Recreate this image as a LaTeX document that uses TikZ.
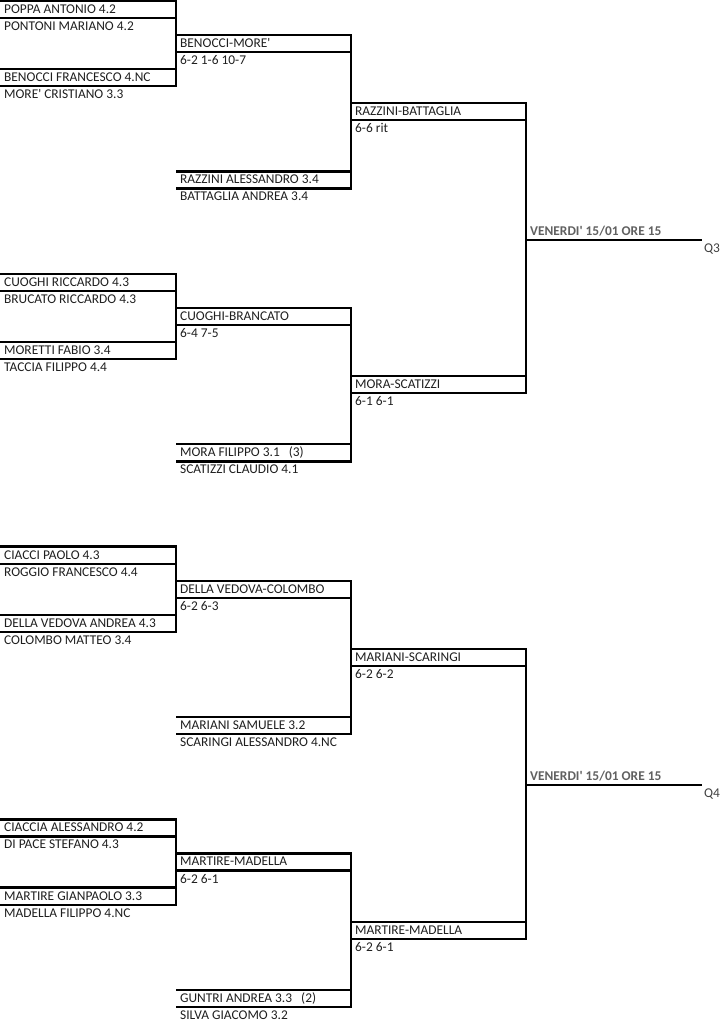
\documentclass[tikz,border=0pt]{standalone}
\usepackage{fontspec}
\setmainfont{Carlito}
\usepackage{xcolor}
\usepackage{tikz}

\begin{document}
\begin{tikzpicture}[x=1pt, y=-17.05pt, line width=2.3pt,
  cell/.style={anchor=base west, inner sep=0pt, text=black!88, font=\fontsize{13.4}{16}\selectfont},
  date/.style={cell, text=black!62, font=\fontsize{13.4}{16}\selectfont\bfseries},
  tag/.style={cell, text=black!75}]
\useasboundingbox (0pt,1pt) rectangle (721pt,-1023pt);
% upper half
\draw (0,0) -| (176,5) -- (0,5) (0,1) -- (176,1) (0,4) -- (176,4);
\node[cell] (poppa) at (3,0.73) {POPPA ANTONIO 4.2};
\node[cell] (pontoni) at (3,1.73) {PONTONI MARIANO 4.2};
\node[cell] (benocci) at (3,4.73) {BENOCCI FRANCESCO 4.NC};
\node[cell] (more) at (3,5.73) {MORE\textquotesingle{} CRISTIANO 3.3};
\draw (176,2) -| (351,11) -- (176,11) (176,3) -- (351,3) (176,10) -- (351,10);
\node[cell] (w1) at (179,2.73) {BENOCCI-MORE\textquotesingle};
\node[cell] (s1) at (179,3.73) {6-2 1-6 10-7};
\node[cell] (razzini) at (179,10.73) {RAZZINI ALESSANDRO 3.4};
\node[cell] (battaglia) at (179,11.73) {BATTAGLIA ANDREA 3.4};
\draw (351,6) -| (526,23) -- (351,23) (351,7) -- (526,7) (351,22) -- (526,22);
\node[cell] (w2) at (354,6.73) {RAZZINI-BATTAGLIA};
\node[cell] (s2) at (354,7.73) {6-6 rit};
\draw (0,16) -| (176,21) -- (0,21) (0,17) -- (176,17) (0,20) -- (176,20);
\node[cell] (cuoghi) at (3,16.73) {CUOGHI RICCARDO 4.3};
\node[cell] (brucato) at (3,17.73) {BRUCATO RICCARDO 4.3};
\node[cell] (moretti) at (3,20.73) {MORETTI FABIO 3.4};
\node[cell] (taccia) at (3,21.73) {TACCIA FILIPPO 4.4};
\draw (176,18) -| (351,27) -- (176,27) (176,19) -- (351,19) (176,26) -- (351,26);
\node[cell] (w3) at (179,18.73) {CUOGHI-BRANCATO};
\node[cell] (s3) at (179,19.73) {6-4 7-5};
\node[cell] (mora) at (179,26.73) {MORA FILIPPO 3.1\ \ \ (3)};
\node[cell] (scatizzi) at (179,27.73) {SCATIZZI CLAUDIO 4.1};
\node[cell] (w4) at (354,22.73) {MORA-SCATIZZI};
\node[cell] (s4) at (354,23.73) {6-1 6-1};
\draw (526,14) -- (702,14);
\node[date] (d1) at (529,13.73) {VENERDI\textquotesingle{} 15/01 ORE 15};
\node[tag] (q3) at (703,14.73) {Q3};
% lower half
\draw (0,32) -| (176,37) -- (0,37) (0,33) -- (176,33) (0,36) -- (176,36);
\node[cell] (ciacci) at (3,32.73) {CIACCI PAOLO 4.3};
\node[cell] (roggio) at (3,33.73) {ROGGIO FRANCESCO 4.4};
\node[cell] (dellavedova) at (3,36.73) {DELLA VEDOVA ANDREA 4.3};
\node[cell] (colombo) at (3,37.73) {COLOMBO MATTEO 3.4};
\draw (176,34) -| (351,43) -- (176,43) (176,35) -- (351,35) (176,42) -- (351,42);
\node[cell] (w5) at (179,34.73) {DELLA VEDOVA-COLOMBO};
\node[cell] (s5) at (179,35.73) {6-2 6-3};
\node[cell] (mariani) at (179,42.73) {MARIANI SAMUELE 3.2};
\node[cell] (scaringi) at (179,43.73) {SCARINGI ALESSANDRO 4.NC};
\draw (351,38) -| (526,55) -- (351,55) (351,39) -- (526,39) (351,54) -- (526,54);
\node[cell] (w6) at (354,38.73) {MARIANI-SCARINGI};
\node[cell] (s6) at (354,39.73) {6-2 6-2};
\draw (0,48) -| (176,53) -- (0,53) (0,49) -- (176,49) (0,52) -- (176,52);
\node[cell] (ciaccia) at (3,48.73) {CIACCIA ALESSANDRO 4.2};
\node[cell] (dipace) at (3,49.73) {DI PACE STEFANO 4.3};
\node[cell] (martire) at (3,52.73) {MARTIRE GIANPAOLO 3.3};
\node[cell] (madella) at (3,53.73) {MADELLA FILIPPO 4.NC};
\draw (176,50) -| (351,59) -- (176,59) (176,51) -- (351,51) (176,58) -- (351,58);
\node[cell] (w7) at (179,50.73) {MARTIRE-MADELLA};
\node[cell] (s7) at (179,51.73) {6-2 6-1};
\node[cell] (guntri) at (179,58.73) {GUNTRI ANDREA 3.3\ \ \ (2)};
\node[cell] (silva) at (179,59.73) {SILVA GIACOMO 3.2};
\node[cell] (w8) at (354,54.73) {MARTIRE-MADELLA};
\node[cell] (s8) at (354,55.73) {6-2 6-1};
\draw (526,46) -- (702,46);
\node[date] (d2) at (529,45.73) {VENERDI\textquotesingle{} 15/01 ORE 15};
\node[tag] (q4) at (703,46.73) {Q4};
\end{tikzpicture}
\end{document}
